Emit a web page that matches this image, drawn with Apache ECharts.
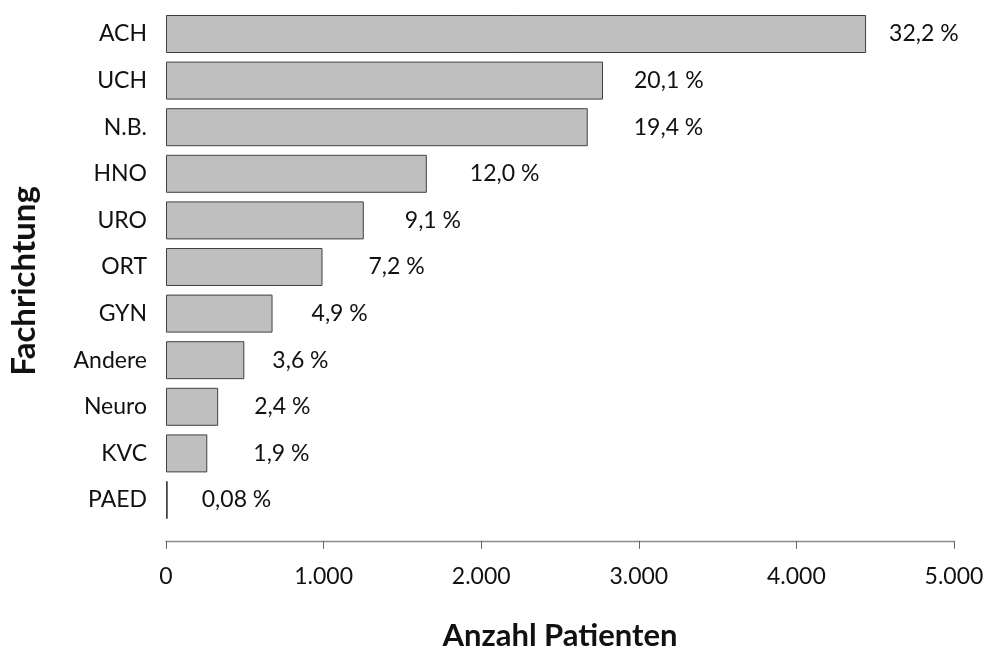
<!DOCTYPE html>
<html>
<head>
<meta charset="utf-8">
<script src="https://cdn.jsdelivr.net/npm/echarts@6/dist/echarts.min.js"></script>
<style>
html,body{margin:0;padding:0;background:#fff;}
#chart{width:988px;height:650px;}
</style>
</head>
<body>
<div id="chart"></div>
<script>
const categories = ['ACH','UCH','N.B.','HNO','URO','ORT','GYN','Andere','Neuro','KVC','PAED'];
const patients = [4442, 2773, 2676, 1655, 1255, 993, 676, 497, 331, 262, 11];
const percentLabels = ['32,2 %','20,1 %','19,4 %','12,0 %','9,1 %','7,2 %','4,9 %','3,6 %','2,4 %','1,9 %','0,08 %'];
const xTicks = {min: 0, max: 5000, interval: 1000};
const labelGap = [23, 31, 46, 43, 41, 46, 39, 28, 36, 46, 34];

const FONT = 'Lato';
const chart = echarts.init(document.getElementById('chart'), null, {renderer: 'canvas'});
chart.setOption({
  animation: false,
  backgroundColor: '#ffffff',
  grid: {left: 166, right: 34, top: 10.7, bottom: 126.7, containLabel: false, outerBoundsMode: 'none'},
  xAxis: {
    type: 'value',
    min: xTicks.min, max: xTicks.max, interval: xTicks.interval,
    offset: 17.5,
    axisLine: {show: true, lineStyle: {color: '#8a8a8a', width: 1.3}},
    axisTick: {show: true, length: 8, lineStyle: {color: '#666', width: 1}},
    splitLine: {show: false},
    axisLabel: {
      color: '#111', fontFamily: FONT, fontSize: 23, margin: 24,
      formatter: v => v === 0 ? '0' : String(v).replace(/\B(?=(\d{3})+(?!\d))/g, '.')
    },
    name: 'Anzahl Patienten',
    nameLocation: 'middle',
    nameGap: 80,
    nameTextStyle: {color: '#111', fontFamily: FONT, fontSize: 31, fontWeight: 'bold'}
  },
  yAxis: {
    type: 'category',
    data: categories,
    inverse: true,
    axisLine: {show: false},
    axisTick: {show: false},
    splitLine: {show: false},
    axisLabel: {color: '#111', fontFamily: FONT, fontSize: 23, margin: 19},
    name: 'Fachrichtung',
    nameLocation: 'middle',
    nameGap: 125,
    nameRotate: 90,
    nameTextStyle: {color: '#111', fontFamily: FONT, fontSize: 33, fontWeight: 'bold', padding: [0, 28, 0, 0]}
  },
  series: [{
    type: 'bar',
    barWidth: 38,
    data: patients.map((v, i) => ({
      value: v,
      label: {distance: labelGap[i]}
    })),
    itemStyle: {color: '#bfbfbf', borderColor: '#404040', borderWidth: 1},
    label: {
      show: true, position: 'right',
      color: '#111', fontFamily: FONT, fontSize: 23,
      formatter: p => percentLabels[p.dataIndex]
    }
  }]
});
</script>
</body>
</html>
